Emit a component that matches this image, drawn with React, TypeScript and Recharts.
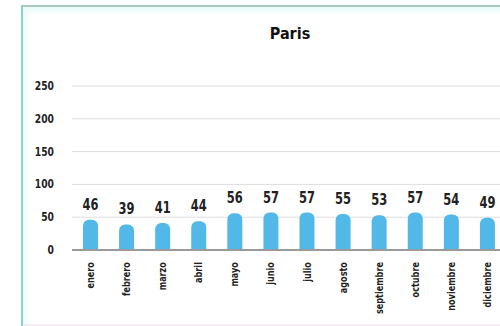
import React from "react";
import { BarChart, Bar, XAxis, YAxis, CartesianGrid, LabelList } from "recharts";

const months = ["enero", "febrero", "marzo", "abril", "mayo", "junio", "julio", "agosto", "septiembre", "octubre", "noviembre", "diciembre"];
const rainfall = [46, 39, 41, 44, 56, 57, 57, 55, 53, 57, 54, 49];
const yTicks = [0, 50, 100, 150, 200, 250];
const title = "Paris";

const data = months.map((m, i) => ({ month: m, value: rainfall[i] }));

const FONT = "'DejaVu Sans Condensed', 'Liberation Sans Narrow', sans-serif";

const XTick = (props: any) => {
  const { x, y, payload } = props;
  return (
    <g transform={`translate(${x},${y})`}>
      <text transform="rotate(-90) scale(0.82,1)" x={-5} y={0} dy={4} textAnchor="end" fontFamily={FONT} fontWeight="bold" fontSize={11} fill="#222">
        {payload.value}
      </text>
    </g>
  );
};

const YTick = (props: any) => {
  const { x, y, payload } = props;
  return (
    <g transform={`translate(${x},${y})`}>
      <text transform="scale(0.85,1)" x={0} y={0} dy={4} textAnchor="end" fontFamily={FONT} fontWeight="bold" fontSize={12} fill="#222">
        {payload.value}
      </text>
    </g>
  );
};

const ValueLabel = (props: any) => {
  const { x, y, width, value } = props;
  return (
    <g transform={`translate(${Number(x) + Number(width) / 2},${Number(y) - 10})`}>
      <text transform="scale(0.85,1)" x={0} y={0} textAnchor="middle" fontFamily={FONT} fontWeight="bold" fontSize={15} fill="#222">
        {value}
      </text>
    </g>
  );
};

export default function App() {
  return (
    <div style={{ position: "fixed", left: 0, top: 0, width: 500, height: 326, overflow: "hidden", background: "#fff" }}>
      <div style={{ position: "absolute", left: 23, top: 7, width: 477, height: 8, background: "linear-gradient(#e6faf8, #ffffff)" }} />
      <div style={{ position: "absolute", left: 23, top: 7, width: 10, height: 319, background: "linear-gradient(90deg, #eefaf8, rgba(255,255,255,0))" }} />
      <div style={{ position: "absolute", left: 21, top: 5, width: 479, height: 2, background: "#a9c7c1" }} />
      <div style={{ position: "absolute", left: 21, top: 5, width: 2, height: 321, background: "#88d3cb" }} />
      <div style={{ position: "absolute", left: 23, top: 324, width: 477, height: 2, background: "#f6eef4" }} />
      <div style={{ position: "absolute", left: 240, top: 24, width: 100, textAlign: "center", fontFamily: FONT, fontWeight: "bold", fontSize: 16, color: "#111" }}>
        {title}
      </div>
      <div style={{ position: "absolute", left: 0, top: 0 }}>
        <BarChart width={520} height={320} data={data} margin={{ top: 86, right: 15, bottom: 0, left: 0 }}>
          <CartesianGrid horizontal vertical={false} stroke="#dddddd" strokeWidth={1} />
          <XAxis dataKey="month" interval={0} height={70} tickLine={false} axisLine={{ stroke: "#9a9a9a", strokeWidth: 2 }} tick={<XTick />} tickMargin={2} />
          <YAxis width={72} domain={[0, 250]} ticks={yTicks} axisLine={false} tickLine={false} tickSize={0} tick={<YTick />} tickMargin={18} />
          <Bar dataKey="value" fill="#52b8e8" barSize={15} radius={[6, 6, 0, 0]} isAnimationActive={false}>
            <LabelList dataKey="value" position="top" content={<ValueLabel />} />
          </Bar>
        </BarChart>
      </div>
    </div>
  );
}
